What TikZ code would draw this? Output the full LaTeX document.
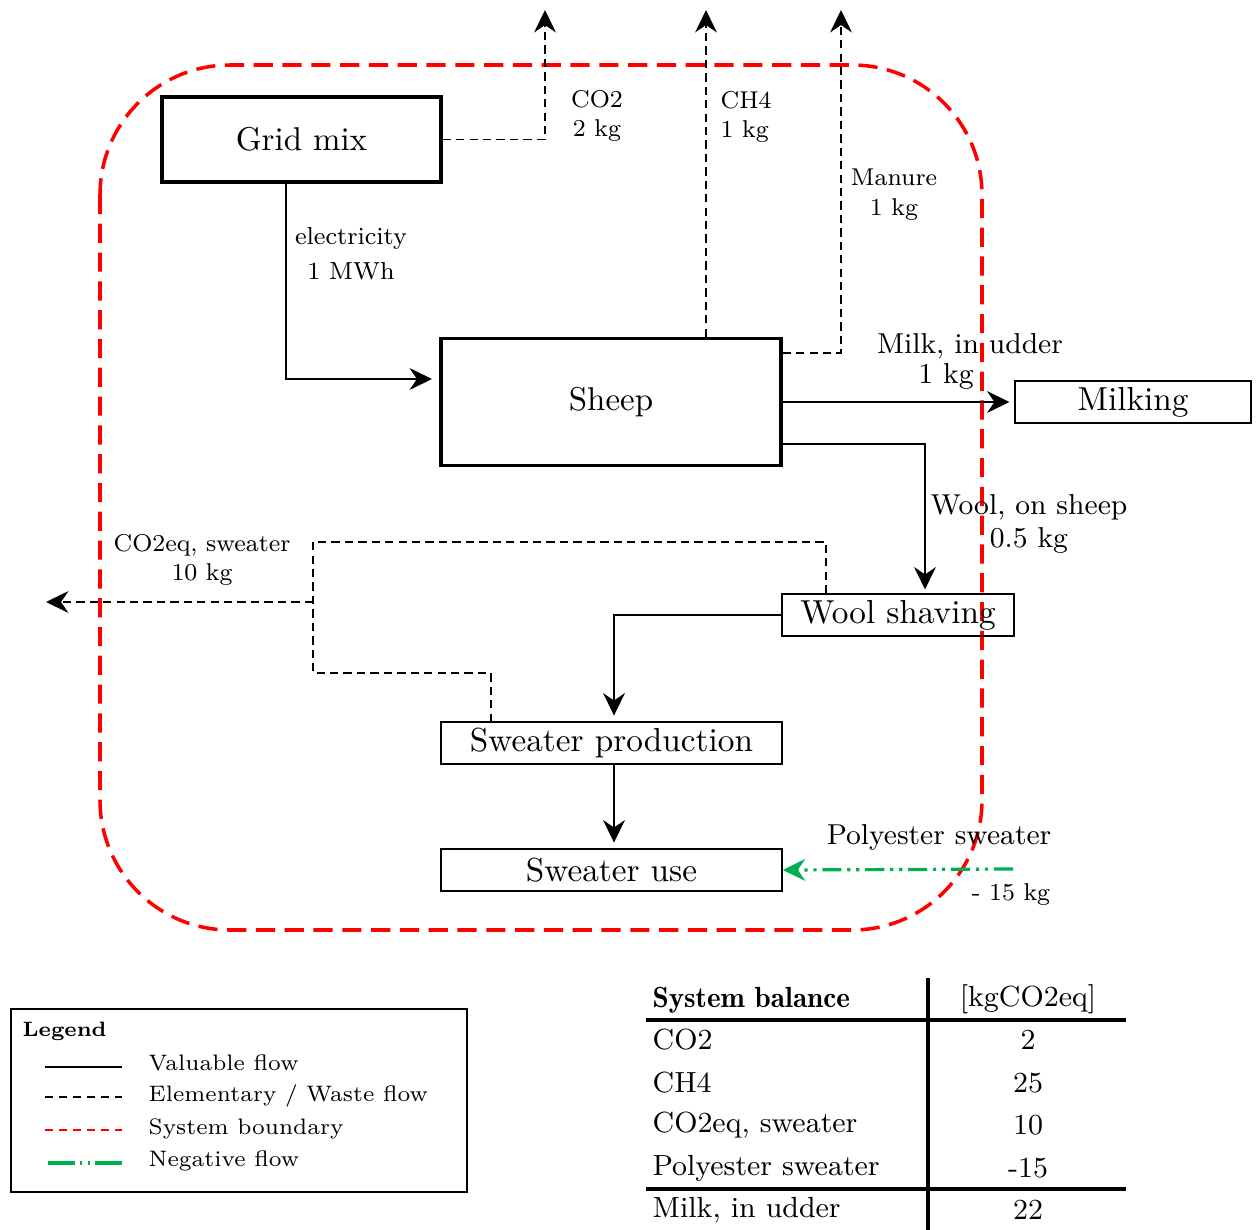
\documentclass[tikz,border=0pt]{standalone}
\usetikzlibrary{arrows.meta}
\definecolor{bndred}{RGB}{255,0,0}
\definecolor{neggreen}{RGB}{0,176,80}
\tikzset{
  tip/.style={-{Stealth[length=7pt,width=6.8pt,inset=2.3pt]}},
  mainbox/.style={draw, line width=1pt, inner sep=0pt, font=\fontsize{10.3}{12}\selectfont},
  subbox/.style={draw, line width=0.45pt, inner sep=0pt, font=\fontsize{10.4}{12}\selectfont},
  flow/.style={line width=0.65pt, tip},
  wasteline/.style={line width=0.5pt, dash pattern=on 2.6pt off 1.6pt},
  waste/.style={wasteline, tip},
  negflow/.style={neggreen, line width=1pt, dash pattern=on 6pt off 1.8pt on 1pt off 1.8pt on 1pt off 1.8pt, tip},
  boundary/.style={bndred, line width=1.1pt, dash pattern=on 6pt off 3pt},
  smalllbl/.style={inner sep=0pt, align=center, font=\fontsize{7.6}{9.3}\selectfont},
  midlbl/.style={inner sep=0pt, align=center, font=\fontsize{9}{10.5}\selectfont},
  legtxt/.style={inner sep=0pt, anchor=west, font=\fontsize{7}{9}\selectfont},
  tabtxt/.style={inner sep=0pt, font=\fontsize{9.1}{10}\selectfont},
}
\begin{document}
\begin{tikzpicture}[x=0.3125pt, y=-0.3125pt]
\useasboundingbox (0,0) rectangle (1259,1230);

% system boundary
\draw[boundary, rounded corners=40.6pt] (100,65) rectangle (982,930);

% processes
\node[mainbox, minimum width=87.2pt, minimum height=26.6pt] (grid) at (301.5,139.5) {Grid mix};
\node[mainbox, minimum width=106.3pt, minimum height=39.7pt] (sheep) at (611,402) {Sheep};
\node[subbox, minimum width=73.75pt, minimum height=13.1pt] (milking) at (1133,402) {Milking};
\node[subbox, minimum width=72.5pt, minimum height=13.1pt] (wool) at (898,615) {Wool shaving};
\node[subbox, minimum width=106.6pt, minimum height=13.1pt] (prod) at (611.5,743) {Sweater production};
\node[subbox, minimum width=106.6pt, minimum height=13.1pt] (use) at (611.5,870) {Sweater use};

% free ends and bend points
\coordinate (co2tip) at (545,10);
\coordinate (ch4tip) at (706,10);
\coordinate (manuretip) at (841,10);
\coordinate (manurerow) at (0,353);
\coordinate (elecx) at (286,0);
\coordinate (elecin) at (432,379);
\coordinate (woolrow) at (0,444);
\coordinate (woolx) at (925,0);
\coordinate (wooltop) at (826,0);
\coordinate (eqtop) at (313,542);
\coordinate (eqjoin) at (313,602);
\coordinate (eqbot) at (313,673);
\coordinate (prodx) at (491,0);
\coordinate (eqtip) at (46,602);
\coordinate (polystart) at (1013,869);
\coordinate (prodinx) at (614,0);

% elementary flows
\draw[waste] (grid.east) -| (co2tip);
\draw[waste] (ch4tip |- sheep.north) -- (ch4tip);
\draw[waste] (sheep.east |- manurerow) -| (manuretip);
\draw[wasteline] (wooltop |- wool.north) |- (eqtop) -- (eqbot) -| (prodx |- prod.north);
\draw[waste] (eqjoin) -- (eqtip);

% valuable flows
\draw[flow] (elecx |- grid.south) |- (elecin);
\draw[flow, shorten >=1.5pt] (sheep.east) -- (milking.west);
\draw[flow, shorten >=1.2pt] (sheep.east |- woolrow) -| (woolx |- wool.north);
\draw[flow, shorten >=1.8pt] (wool.west) -| (prodinx |- prod.north);
\draw[flow, shorten >=1.8pt] (prodinx |- prod.south) -- (prodinx |- use.north);

% negative flow
\draw[negflow] (polystart) -- (use.east);

% flow labels
\node[smalllbl] (lco2) at (597,116) {CO2\\2 kg};
\node[smalllbl, align=left, anchor=west] (lch4) at (720,117) {CH4\\1 kg};
\node[smalllbl] (lmanure) at (894,195) {Manure\\1 kg};
\node[smalllbl, font=\fontsize{7.7}{11}\selectfont] (lelec) at (351,254) {electricity\\1 MWh};
\node[midlbl] (lmilk) at (970,346) {Milk, in udder};
\node[midlbl] (lmilkq) at (946,376) {1 kg};
\node[midlbl] (lwool) at (1029,524) {Wool, on sheep\\0.5 kg};
\node[smalllbl] (leq) at (202,560) {CO2eq, sweater\\10 kg};
\node[midlbl] (lpoly) at (939,837) {Polyester sweater};
\node[smalllbl] (lpolyq) at (1011,895) {- 15 kg};

% legend
\node[draw, line width=0.6pt, minimum width=142.5pt, minimum height=57.2pt, inner sep=0pt] (legend) at (239,1100.5) {};
\node[legtxt, font=\fontsize{6.5}{9}\selectfont\bfseries] (legtitle) at (22,1031) {Legend};
\coordinate (la1) at (45,1067);  \coordinate (lb1) at (122,1067);
\coordinate (la2) at (45,1097);  \coordinate (lb2) at (122,1097);
\coordinate (la3) at (45,1130);  \coordinate (lb3) at (122,1130);
\coordinate (la4) at (48,1163);  \coordinate (lb4) at (127,1163);
\draw[line width=0.6pt] (la1) -- (lb1);
\draw[line width=0.5pt, dash pattern=on 2.4pt off 2pt] (la2) -- (lb2);
\draw[bndred, line width=0.5pt, dash pattern=on 2.4pt off 2pt] (la3) -- (lb3);
\draw[neggreen, line width=1pt, dash pattern=on 8.4pt off 1.7pt on 0.6pt off 1.7pt on 0.6pt off 1.7pt] (la4) -- (lb4);
\node[legtxt] (lt1) at (148,1063) {Valuable flow};
\node[legtxt] (lt2) at (148,1096) {Elementary / Waste flow};
\node[legtxt] (lt3) at (148,1129) {System boundary};
\node[legtxt] (lt4) at (148,1161) {Negative flow};

% system balance table
\draw[line width=1pt] (928,978) -- (928,1230);
\draw[line width=1pt] (646,1020) -- (1126,1020);
\draw[line width=1pt] (646,1189) -- (1126,1189);
\node[tabtxt, anchor=west, font=\fontsize{9.1}{10}\selectfont\fontseries{b}\selectfont] (th1) at (652,1000) {System balance};
\node[tabtxt] (th2) at (1028,999) {[kgCO2eq]};
\node[tabtxt, anchor=west] (r1) at (652,1040) {CO2};
\node[tabtxt, anchor=west] (r2) at (652,1083) {CH4};
\node[tabtxt, anchor=west] (r3) at (652,1125) {CO2eq, sweater};
\node[tabtxt, anchor=west] (r4) at (652,1168) {Polyester sweater};
\node[tabtxt, anchor=west] (r5) at (652,1210) {Milk, in udder};
\node[tabtxt] (v1) at (1028,1040) {2};
\node[tabtxt] (v2) at (1028,1083) {25};
\node[tabtxt] (v3) at (1028,1125) {10};
\node[tabtxt] (v4) at (1028,1168) {-15};
\node[tabtxt] (v5) at (1028,1210) {22};
\end{tikzpicture}
\end{document}
